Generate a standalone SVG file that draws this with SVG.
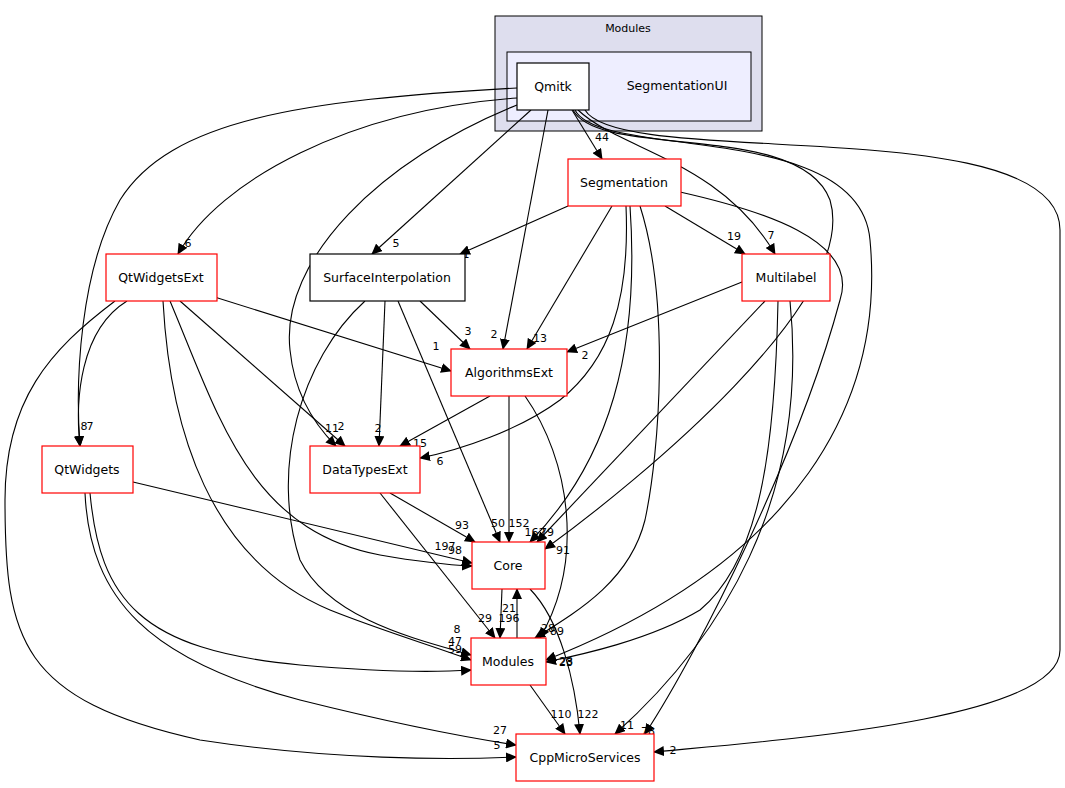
<svg xmlns="http://www.w3.org/2000/svg" width="1065" height="788" viewBox="0 0 1065 788">
<style>
text{font-family:"DejaVu Sans",sans-serif;fill:#000}
.n{font-size:12.5px;text-anchor:middle}
.l{font-size:11px;text-anchor:middle}
.box{fill:#fff;stroke:#f00;stroke-width:1.2}
.bk{fill:#fff;stroke:#000;stroke-width:1.2}
#edges path{fill:none;stroke:#000;stroke-width:1.1;marker-end:url(#a)}
</style>
<defs><marker id="a" markerWidth="11" markerHeight="10" refX="10" refY="5" orient="auto" markerUnits="userSpaceOnUse"><path d="M0,0L11,5L0,10z" fill="#000"/></marker></defs>
<rect width="1065" height="788" fill="#fff"/>
<g id="cluster-modules"><rect x="495" y="16" width="267" height="115" fill="#dedeee" stroke="#000"/><text class="l" x="628" y="32">Modules</text></g>
<g id="cluster-segui"><rect x="507" y="52" width="244" height="69" fill="#eeeeff" stroke="#000"/><text class="n" x="677" y="90">SegmentationUI</text></g>
<g id="edges">
<path d="M517,98 C350,110 220,180 178,254"/>
<path d="M517,88 C300,100 170,120 120,200 C80,270 75,380 80,446"/>
<path d="M517,105 C380,160 280,260 290,350 C295,400 320,430 336,446"/>
<path d="M531,110 L372,254"/>
<path d="M548,110 L503,349"/>
<path d="M572,110 L602,159"/>
<path d="M578,110 C620,150 720,160 775,254"/>
<path d="M573,110 C600,160 800,120 830,200 C860,300 640,480 545,549"/>
<path d="M575,110 C600,160 860,120 870,240 C885,400 800,560 546,660"/>
<path d="M585,110 C620,170 1060,110 1060,230 L1060,650 C1060,720 780,740 654,752"/>
<path d="M568,206 L460,254"/>
<path d="M665,206 L745,254"/>
<path d="M612,206 L527,349"/>
<path d="M626,206 C630,300 610,360 560,400 C520,430 460,450 420,458"/>
<path d="M630,206 C640,350 610,460 530,542"/>
<path d="M640,206 C670,300 660,450 645,520 C630,580 580,610 535,638"/>
<path d="M680,192 C760,210 860,240 840,300 C800,450 700,650 645,734"/>
<path d="M420,301 L470,349"/>
<path d="M385,301 L379,446"/>
<path d="M398,301 L500,542"/>
<path d="M365,301 C300,360 270,470 300,560 C330,620 420,640 471,655"/>
<path d="M205,294 L451,371"/>
<path d="M180,301 L345,446"/>
<path d="M170,301 C220,420 250,530 380,555 C420,562 450,565 472,566"/>
<path d="M163,301 C170,430 210,560 330,610 C380,630 430,645 471,660"/>
<path d="M127,301 C80,330 75,400 80,446"/>
<path d="M115,301 C50,350 5,400 5,500 C5,640 20,700 200,740 C330,760 450,760 516,757"/>
<path d="M133,482 C250,510 400,545 472,563"/>
<path d="M90,493 C100,600 140,650 300,665 C380,672 440,672 471,670"/>
<path d="M85,493 C90,600 150,660 300,700 C400,725 470,738 516,745"/>
<path d="M490,396 L400,446"/>
<path d="M509,396 L509,542"/>
<path d="M525,396 C570,460 585,560 540,638"/>
<path d="M390,493 L475,542"/>
<path d="M380,493 L495,638"/>
<path d="M742,282 L567,352"/>
<path d="M765,301 L537,542"/>
<path d="M778,301 C775,450 760,560 700,610 C650,640 580,655 546,662"/>
<path d="M790,301 C810,500 720,640 615,734"/>
<path d="M502,589 L500,638"/>
<path d="M530,589 C560,620 575,680 580,734"/>
<path d="M517,638 L517,589"/>
<path d="M530,685 L565,734"/>
</g>
<g id="edge-labels">
<text class="l" x="188" y="247">6</text><text class="l" x="90" y="430">7</text><text class="l" x="341" y="430">2</text>
<text class="l" x="396" y="247">5</text><text class="l" x="494" y="338">2</text><text class="l" x="602" y="141">44</text>
<text class="l" x="771" y="239">7</text><text class="l" x="547" y="536">79</text><text class="l" x="566" y="666">23</text>
<text class="l" x="673" y="754">2</text><text class="l" x="466" y="258">1</text><text class="l" x="734" y="240">19</text>
<text class="l" x="540" y="342">13</text><text class="l" x="440" y="465">6</text><text class="l" x="535" y="536">162</text>
<text class="l" x="548" y="632">28</text><text class="l" x="648" y="735">78</text><text class="l" x="468" y="335">3</text>
<text class="l" x="378" y="432">2</text><text class="l" x="498" y="527">50</text><text class="l" x="457" y="633">8</text>
<text class="l" x="436" y="350">1</text><text class="l" x="332" y="432">11</text><text class="l" x="455" y="554">98</text>
<text class="l" x="455" y="645">47</text><text class="l" x="84" y="430">8</text><text class="l" x="497" y="749">5</text>
<text class="l" x="445" y="550">197</text><text class="l" x="455" y="653">59</text><text class="l" x="500" y="734">27</text>
<text class="l" x="420" y="447">15</text><text class="l" x="519" y="527">152</text><text class="l" x="557" y="635">89</text>
<text class="l" x="462" y="529">93</text><text class="l" x="485" y="622">29</text><text class="l" x="585" y="359">2</text>
<text class="l" x="563" y="554">91</text><text class="l" x="566" y="665">28</text><text class="l" x="627" y="729">11</text>
<text class="l" x="509" y="622">196</text><text class="l" x="588" y="718">122</text><text class="l" x="509" y="612">21</text>
<text class="l" x="561" y="718">110</text>
</g>
<g id="qmitk"><rect class="bk" x="517" y="63" width="72" height="47"/><text class="n" x="553" y="91">Qmitk</text></g>
<g id="segmentation"><rect class="box" x="568" y="159" width="113" height="47"/><text class="n" x="624" y="187">Segmentation</text></g>
<g id="surfaceinterpolation"><rect class="bk" x="310" y="254" width="155" height="47"/><text class="n" x="387" y="282">SurfaceInterpolation</text></g>
<g id="qtwidgetsext"><rect class="box" x="106" y="254" width="111" height="47"/><text class="n" x="161" y="282">QtWidgetsExt</text></g>
<g id="multilabel"><rect class="box" x="742" y="254" width="88" height="47"/><text class="n" x="786" y="282">Multilabel</text></g>
<g id="algorithmsext"><rect class="box" x="451" y="349" width="116" height="47"/><text class="n" x="509" y="377">AlgorithmsExt</text></g>
<g id="datatypesext"><rect class="box" x="310" y="446" width="110" height="47"/><text class="n" x="365" y="474">DataTypesExt</text></g>
<g id="qtwidgets"><rect class="box" x="42" y="446" width="91" height="47"/><text class="n" x="87" y="474">QtWidgets</text></g>
<g id="core"><rect class="box" x="472" y="542" width="73" height="47"/><text class="n" x="508" y="570">Core</text></g>
<g id="modules"><rect class="box" x="471" y="638" width="75" height="47"/><text class="n" x="508" y="666">Modules</text></g>
<g id="cppmicroservices"><rect class="box" x="516" y="734" width="138" height="47"/><text class="n" x="585" y="762">CppMicroServices</text></g>
</svg>
